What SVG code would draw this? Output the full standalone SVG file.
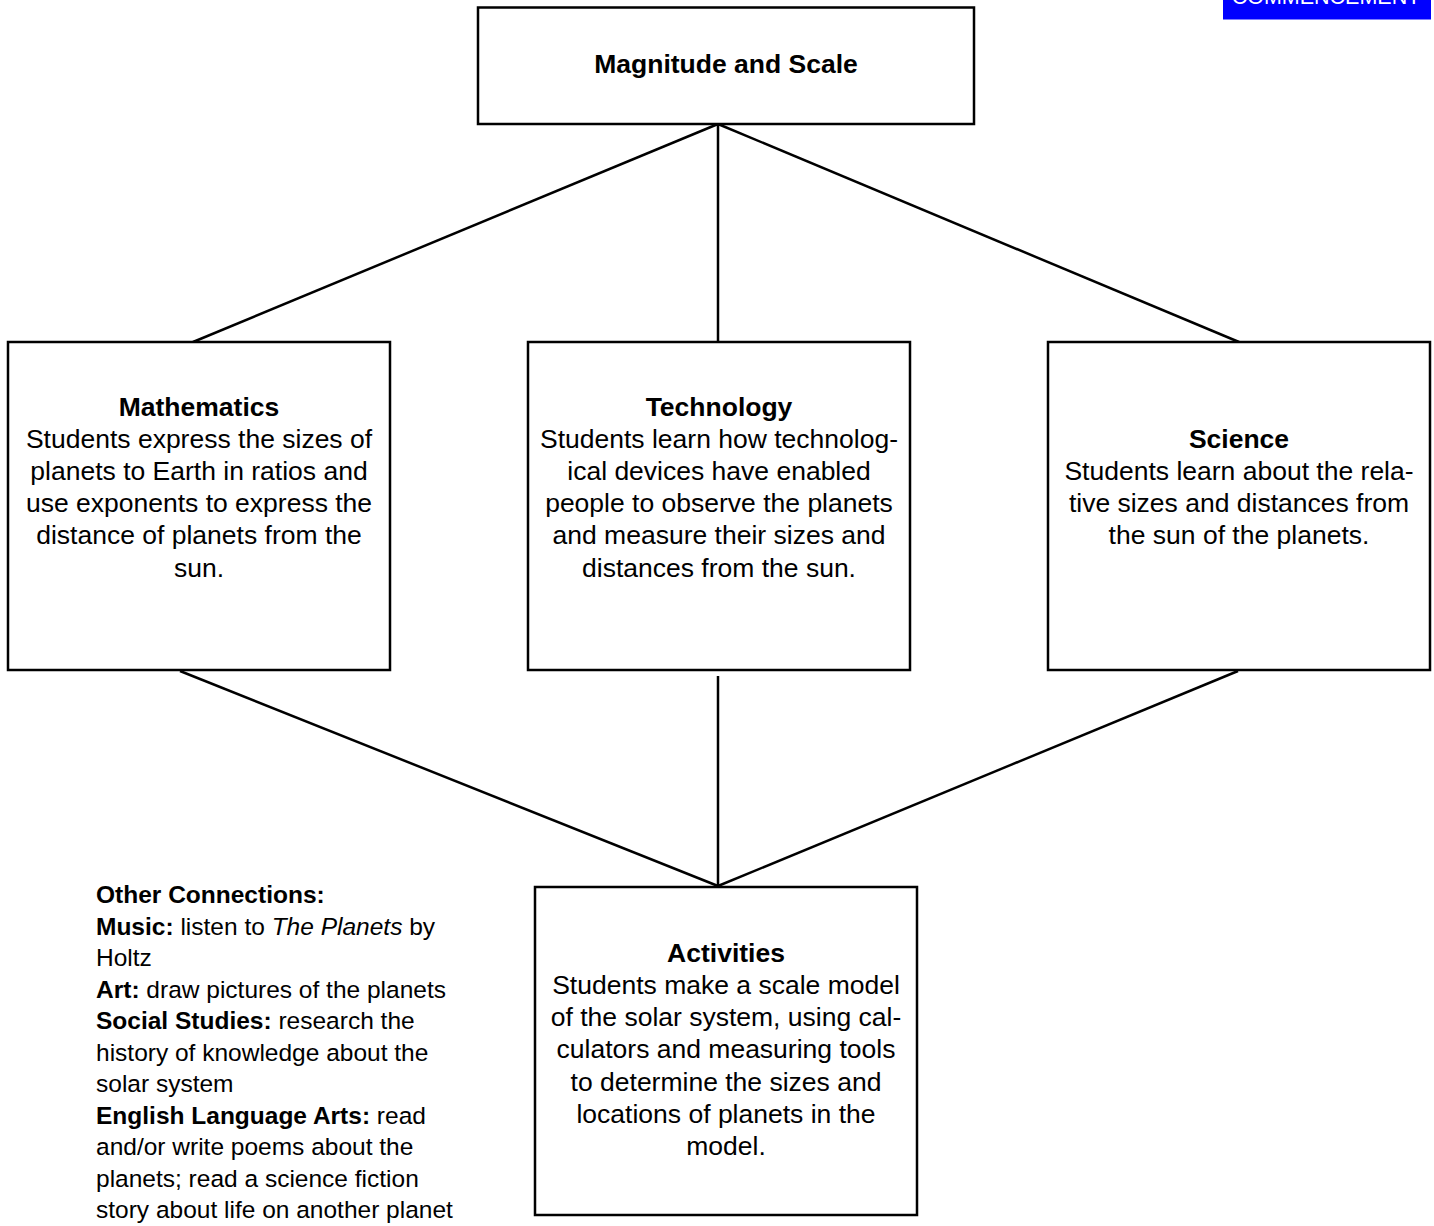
<svg xmlns="http://www.w3.org/2000/svg" width="1434" height="1226" viewBox="0 0 1434 1226">
<style>
.box{fill:#fff;stroke:#000;stroke-width:2.5}
.c{stroke:#000;stroke-width:2.5;fill:none}
text{font-family:"Liberation Sans",Arial,sans-serif;font-size:26.5px;fill:#000}
.m{text-anchor:middle}
.b{font-weight:bold}
.oc{font-size:24.5px}
</style>
<rect width="1434" height="1226" fill="#fff"/>
<g id="banner">
<rect x="1223" y="-2" width="208" height="21.5" fill="#0000ff"/>
<text x="1326" y="3.5" class="m" style="font-size:21.5px;fill:#fff">COMMENCEMENT</text>
</g>
<g id="connectors">
<line class="c" x1="718" y1="124" x2="193" y2="342"/>
<line class="c" x1="718" y1="124" x2="718" y2="342"/>
<line class="c" x1="718" y1="124" x2="1239" y2="342"/>
<line class="c" x1="180" y1="671" x2="718" y2="886"/>
<line class="c" x1="718" y1="676" x2="718" y2="886"/>
<line class="c" x1="1238" y1="671" x2="718" y2="886"/>
</g>
<g id="magnitude">
<rect class="box" x="478" y="7.5" width="496" height="116.5"/>
<text x="726" y="73" class="m b">Magnitude and Scale</text>
</g>
<g id="mathematics">
<rect class="box" x="8" y="342" width="382" height="328"/>
<text class="m" x="199"><tspan x="199" y="416" class="b">Mathematics</tspan><tspan x="199" y="448">Students express the sizes of</tspan><tspan x="199" y="480">planets to Earth in ratios and</tspan><tspan x="199" y="512">use exponents to express the</tspan><tspan x="199" y="544">distance of planets from the</tspan><tspan x="199" y="577">sun.</tspan></text>
</g>
<g id="technology">
<rect class="box" x="528" y="342" width="382" height="328"/>
<text class="m" x="719"><tspan x="719" y="416" class="b">Technology</tspan><tspan x="719" y="448">Students learn how technolog-</tspan><tspan x="719" y="480">ical devices have enabled</tspan><tspan x="719" y="512">people to observe the planets</tspan><tspan x="719" y="544">and measure their sizes and</tspan><tspan x="719" y="577">distances from the sun.</tspan></text>
</g>
<g id="science">
<rect class="box" x="1048" y="342" width="382" height="328"/>
<text class="m" x="1239"><tspan x="1239" y="448" class="b">Science</tspan><tspan x="1239" y="480">Students learn about the rela-</tspan><tspan x="1239" y="512">tive sizes and distances from</tspan><tspan x="1239" y="544">the sun of the planets.</tspan></text>
</g>
<g id="activities">
<rect class="box" x="535" y="887" width="382" height="328"/>
<text class="m" x="726"><tspan x="726" y="962" class="b">Activities</tspan><tspan x="726" y="994">Students make a scale model</tspan><tspan x="726" y="1026">of the solar system, using cal-</tspan><tspan x="726" y="1058">culators and measuring tools</tspan><tspan x="726" y="1091">to determine the sizes and</tspan><tspan x="726" y="1123">locations of planets in the</tspan><tspan x="726" y="1155">model.</tspan></text>
</g>
<g id="other-connections">
<text class="oc"><tspan x="96" y="903" class="b">Other Connections:</tspan><tspan x="96" y="935"><tspan class="b">Music:</tspan> listen to <tspan font-style="italic">The Planets</tspan> by</tspan><tspan x="96" y="966">Holtz</tspan><tspan x="96" y="998"><tspan class="b">Art:</tspan> draw pictures of the planets</tspan><tspan x="96" y="1029"><tspan class="b">Social Studies:</tspan> research the</tspan><tspan x="96" y="1061">history of knowledge about the</tspan><tspan x="96" y="1092">solar system</tspan><tspan x="96" y="1124"><tspan class="b">English Language Arts:</tspan> read</tspan><tspan x="96" y="1155">and/or write poems about the</tspan><tspan x="96" y="1187">planets; read a science fiction</tspan><tspan x="96" y="1218">story about life on another planet</tspan></text>
</g>
</svg>
